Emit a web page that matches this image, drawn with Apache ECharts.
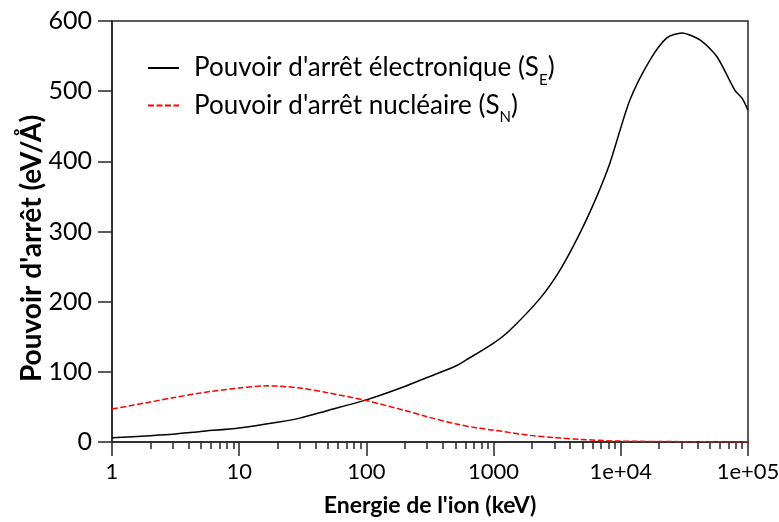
<!DOCTYPE html>
<html>
<head>
<meta charset="utf-8">
<script src="https://cdn.jsdelivr.net/npm/echarts@6/dist/echarts.min.js"></script>
<style>
  html, body { margin: 0; padding: 0; background: #fff; }
  #chart { width: 779px; height: 522px; }
</style>
</head>
<body>
<div id="chart"></div>
<script>
// Pouvoir d'arrêt électronique (S_E) vs énergie (keV)
const energiesE = [1, 2, 3, 5, 10, 20, 30, 50, 100, 200, 300, 500, 610, 1000, 1336, 2300, 3300, 4750, 6440, 8190, 11770, 16900, 23000, 30200, 41900, 57000, 79000, 89700, 100000];
const valuesE = [6, 9, 11, 15, 20, 28, 34, 45, 60, 79, 92, 108, 117, 141, 159, 204, 244, 297, 349, 397, 487, 544, 576, 583, 573, 549, 501, 490, 473];

// Pouvoir d'arrêt nucléaire (S_N)
const energiesN = [1, 2, 3, 5, 10, 17, 30, 50, 100, 200, 300, 500, 776, 1000, 1920, 3000, 4750, 9300, 30000, 100000];
const valuesN = [47, 57, 63, 70, 77, 80, 77, 70, 59, 45, 36, 26, 19.5, 17, 9.5, 6.3, 3.8, 1.4, 0.5, 0.2];

const xMajorTicks = [1, 10, 100, 1000, 10000, 100000];
const xTickLabels = ["1", "10", "100", "1000", "1e+04", "1e+05"];
const xMinorTicks = [];
xMajorTicks.slice(0, -1).forEach((d) => {
  for (let k = 2; k <= 9; k++) xMinorTicks.push(k * d);
});

const FONT = "Lato";
const AXIS_COLOR = "#262626";

const chart = echarts.init(document.getElementById("chart"));

const legendNames = {
  SE: "{t|Pouvoir d'arrêt électronique (S}{s|E}{t|)}",
  SN: "{t|Pouvoir d'arrêt nucléaire (S}{s|N}{t|)}",
};

chart.setOption({
  animation: false,
  textStyle: { fontFamily: FONT },
  grid: {
    left: 112, right: 31, top: 21, bottom: 80,
    outerBoundsMode: "none",
    containLabel: false,
    show: true, borderColor: AXIS_COLOR, borderWidth: 1.5,
  },
  legend: {
    orient: "vertical",
    left: 142,
    top: 50,
    itemWidth: 31,
    itemHeight: 14,
    itemGap: 5,
    data: ["SE", "SN"],
    itemStyle: { opacity: 0 },
    formatter: (name) => legendNames[name],
    textStyle: {
      padding: [0, 0, 0, 10],
      rich: {
        t: { fontFamily: FONT, fontSize: 26, color: "#000", lineHeight: 29 },
        s: { fontFamily: FONT, fontSize: 15, color: "#000", lineHeight: 15, verticalAlign: "bottom", padding: [0, 0, -5, 0] },
      },
    },
  },
  xAxis: [
    {
      type: "log",
      logBase: 10,
      min: 1,
      max: 100000,
      name: "Energie de l'ion (keV)",
      nameLocation: "middle",
      nameGap: 52,
      nameMoveOverlap: false,
      nameTextStyle: { fontFamily: FONT, fontSize: 23, fontWeight: "bold", color: "#000" },
      axisLine: { lineStyle: { color: AXIS_COLOR, width: 1.5 } },
      axisTick: { inside: false, length: 14, customValues: xMajorTicks, lineStyle: { color: AXIS_COLOR, width: 1.5 } },
      axisLabel: {
        customValues: xMajorTicks,
        margin: 19,
        fontSize: 22,
        color: "#000",
        formatter: (v) => xTickLabels[xMajorTicks.indexOf(v)] ?? String(v),
      },
      splitLine: { show: false },
    },
    {
      type: "log",
      logBase: 10,
      min: 1,
      max: 100000,
      position: "bottom",
      axisLine: { show: false },
      axisTick: { inside: false, length: 7, customValues: xMinorTicks, lineStyle: { color: AXIS_COLOR, width: 1.5 } },
      axisLabel: { show: false },
      splitLine: { show: false },
    },
  ],
  yAxis: {
    type: "value",
    min: 0,
    max: 600,
    interval: 100,
    name: "Pouvoir d'arrêt (eV/Å)",
    nameLocation: "middle",
    nameGap: 66,
    nameMoveOverlap: false,
    nameTextStyle: { fontFamily: FONT, fontSize: 28, fontWeight: "bold", color: "#000", padding: [0, 34, 0, 0] },
    axisLine: { show: true, lineStyle: { color: AXIS_COLOR, width: 1.5 } },
    axisTick: { show: true, inside: false, length: 14, lineStyle: { color: AXIS_COLOR, width: 1.5 } },
    axisLabel: { margin: 20, fontSize: 25, color: "#000" },
    splitLine: { show: false },
  },
  series: [
    {
      name: "SE",
      type: "line",
      xAxisIndex: 0,
      data: energiesE.map((e, i) => [e, valuesE[i]]),
      symbol: "none",
      smooth: 0.25,
      lineStyle: { color: "#000", width: 1.5 },
      itemStyle: { color: "#000" },
    },
    {
      name: "SN",
      type: "line",
      xAxisIndex: 0,
      data: energiesN.map((e, i) => [e, valuesN[i]]),
      symbol: "none",
      smooth: 0.3,
      lineStyle: { color: "#ff0000", width: 1.5, type: [6, 2.5] },
      itemStyle: { color: "#ff0000" },
    },
  ],
});
</script>
</body>
</html>
